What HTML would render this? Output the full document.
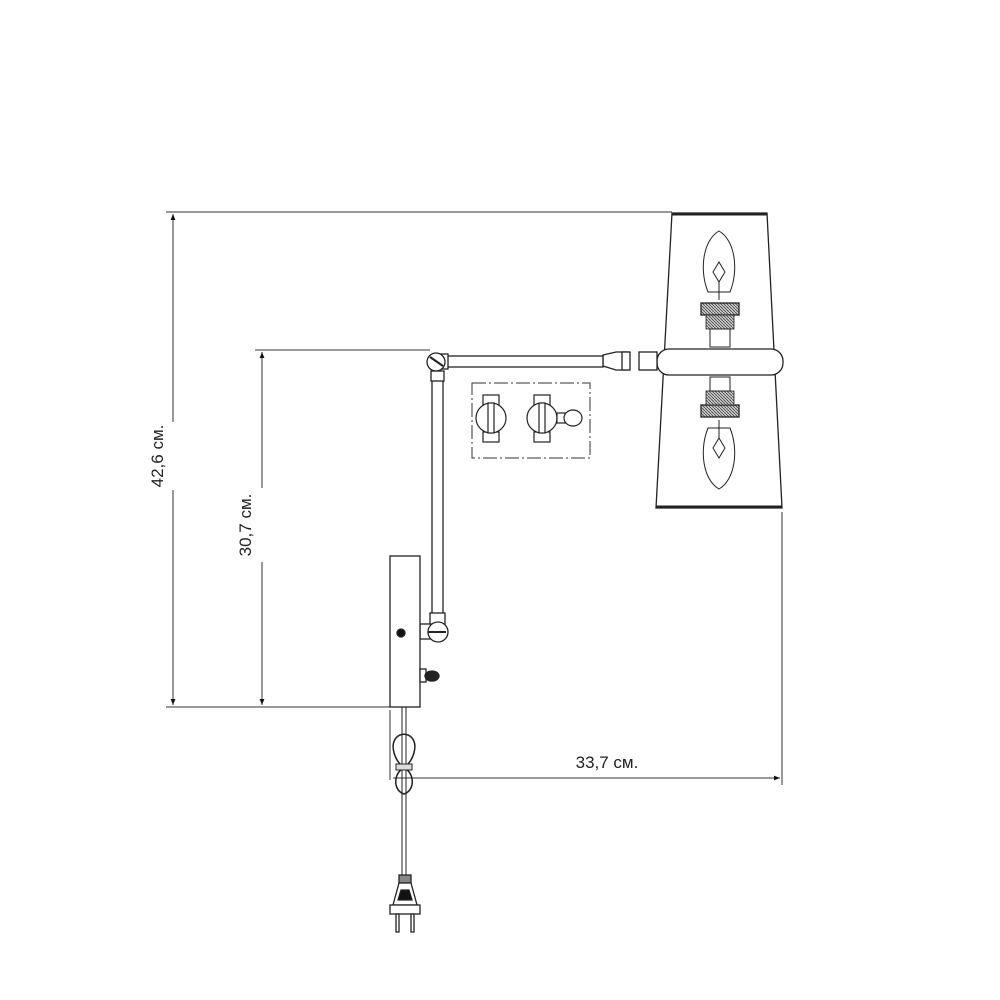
<!DOCTYPE html>
<html><head><meta charset="utf-8"><style>html,body{margin:0;padding:0;background:#fff}svg{display:block}</style></head>
<body>
<svg width="1000" height="1000" viewBox="0 0 1000 1000" xmlns="http://www.w3.org/2000/svg" font-family="Liberation Sans, DejaVu Sans, sans-serif">
<defs>
<marker id="a" viewBox="0 0 10 10" refX="10" refY="5" markerWidth="9" markerHeight="6" orient="auto-start-reverse" markerUnits="userSpaceOnUse"><path d="M0,1 L10,5 L0,9 z" fill="#111"/></marker>
<pattern id="h" width="3" height="3" patternUnits="userSpaceOnUse"><rect width="3" height="3" fill="#ccc"/><path d="M0,0 L3,3" stroke="#444" stroke-width="0.8"/></pattern>
</defs>
<g stroke="#333" stroke-width="1" fill="none">
<line x1="166" y1="212" x2="672" y2="212"/>
<line x1="255" y1="350" x2="430" y2="350"/>
<line x1="166" y1="707" x2="392" y2="707"/>
<line x1="782" y1="512" x2="782" y2="785"/>
<line x1="390" y1="710" x2="390" y2="780"/>
<line x1="173" y1="214" x2="173" y2="422" marker-start="url(#a)"/>
<line x1="173" y1="490" x2="173" y2="705" marker-end="url(#a)"/>
<line x1="262" y1="352" x2="262" y2="488" marker-start="url(#a)"/>
<line x1="262" y1="562" x2="262" y2="705" marker-end="url(#a)"/>
<line x1="393" y1="778" x2="780" y2="778" marker-end="url(#a)"/>
</g>
<text x="0" y="0" font-size="17" fill="#222" text-anchor="middle" transform="translate(163,456) rotate(-90)">42,6 см.</text>
<text x="0" y="0" font-size="17" fill="#222" text-anchor="middle" transform="translate(251,525) rotate(-90)">30,7 см.</text>
<text x="607" y="768" font-size="17" fill="#222" text-anchor="middle">33,7 см.</text>

<g stroke="#222" stroke-width="1.3" fill="#fff">
<path d="M672,213 L767,213 L782,508 L656,508 Z"/>
<line x1="672" y1="214" x2="767" y2="214" stroke-width="3"/>
<line x1="656" y1="507" x2="782" y2="507" stroke-width="3"/>
<!-- top bulb -->
<path d="M719,231 C703,240 699,270 708,292 L730,292 C739,270 735,240 719,231 Z" fill="none" stroke-width="1"/>
<path d="M719,262 L713,272 L719,282 L725,272 Z" fill="none" stroke-width="1"/>
<line x1="719" y1="282" x2="719" y2="300" stroke-width="1"/>
<rect x="701" y="303" width="38" height="12" fill="url(#h)"/>
<rect x="706" y="315" width="28" height="14" fill="url(#h)" stroke-width="0.8"/>
<rect x="710" y="329" width="20" height="18" fill="none" stroke-width="1"/>
<!-- bottom bulb -->
<path d="M719,489 C703,480 699,450 708,428 L730,428 C739,450 735,480 719,489 Z" fill="none" stroke-width="1"/>
<path d="M719,458 L713,448 L719,438 L725,448 Z" fill="none" stroke-width="1"/>
<line x1="719" y1="438" x2="719" y2="420" stroke-width="1"/>
<rect x="701" y="405" width="38" height="12" fill="url(#h)"/>
<rect x="706" y="391" width="28" height="14" fill="url(#h)" stroke-width="0.8"/>
<rect x="710" y="377" width="20" height="14" fill="none" stroke-width="1"/>
<rect x="657" y="349" width="126" height="26" rx="12"/>
<path d="M603,355 L616,352 L628,352 L628,370 L616,370 L603,366 Z"/>
<rect x="622" y="352" width="8" height="18"/>
<rect x="639" y="352" width="18" height="18"/>
<rect x="446" y="356" width="157" height="11"/>
<rect x="436" y="354" width="12" height="15"/>
<rect x="432" y="378" width="11" height="237"/>
<rect x="431" y="371" width="13" height="10"/>
<circle cx="436" cy="362" r="9"/>
<line x1="430" y1="357" x2="443" y2="366" stroke-width="2"/>
<rect x="430" y="613" width="15" height="12"/>
<rect x="420" y="624" width="12" height="15"/>
<circle cx="438" cy="632" r="10"/>
<line x1="428" y1="632" x2="446" y2="632" stroke-width="2"/>
<rect x="390" y="556" width="30" height="151"/>
<circle cx="401" cy="633" r="4" fill="#111"/>
<rect x="420" y="669" width="6" height="13"/>
<ellipse cx="432" cy="676" rx="7" ry="5" fill="#222"/>
<line x1="402" y1="707" x2="402" y2="875" stroke-width="1"/>
<line x1="406" y1="707" x2="406" y2="875" stroke-width="1"/>
<!-- coil -->
<path d="M404,768 C394,760 390,745 396,738 C400,733 408,733 412,738 C418,745 414,760 404,768 Z" fill="none" stroke-width="1.5"/>
<path d="M404,768 C394,772 392,790 404,794 C416,790 414,772 404,768 Z" fill="none" stroke-width="1.5"/>
<rect x="396" y="764" width="16" height="6" fill="#ddd" stroke-width="1"/>
<rect x="399" y="875" width="12" height="8" fill="#888"/>
<path d="M399,883 L411,883 L417,905 L393,905 Z"/>
<path d="M401,890 L409,890 L412,900 L398,900 Z" fill="#111"/>
<rect x="390" y="905" width="30" height="9"/>
<rect x="396" y="914" width="3" height="18"/>
<rect x="411" y="914" width="3" height="18"/>
</g>
<rect x="472" y="383" width="118" height="75" fill="none" stroke="#333" stroke-width="1" stroke-dasharray="14,3,2,3"/>
<g stroke="#222" stroke-width="1.2" fill="#fff">
<rect x="483" y="395" width="16" height="10"/>
<rect x="483" y="432" width="16" height="10"/>
<circle cx="491" cy="418" r="15"/>
<rect x="488" y="403" width="6" height="30"/>
<rect x="534" y="395" width="16" height="10"/>
<rect x="534" y="432" width="16" height="10"/>
<circle cx="542" cy="418" r="15"/>
<rect x="539" y="403" width="6" height="30"/>
<rect x="557" y="413" width="8" height="10"/>
<ellipse cx="573" cy="418" rx="9" ry="8"/>
</g>
</svg>
</body></html>
